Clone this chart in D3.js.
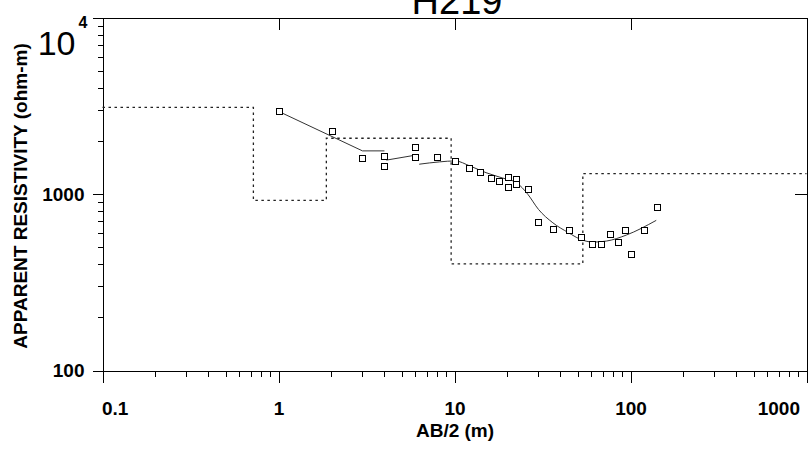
<!DOCTYPE html>
<html><head><meta charset="utf-8">
<script src="https://cdn.jsdelivr.net/npm/d3@7/dist/d3.min.js"></script>
<style>
html,body{margin:0;padding:0;background:#fff;}
svg{display:block;font-family:"Liberation Sans",Arial,Helvetica,sans-serif;}
</style>
</head><body>
<svg id="chart" width="808" height="455"></svg>
<script>
// ---------- data ----------
const chartTitle = "H219";
const xAxisTitle = "AB/2 (m)";
const yAxisTitle = "APPARENT RESISTIVITY (ohm-m)";

const xMajorTicks = [0.1, 1, 10, 100, 1000];
const xTickLabels = ["0.1", "1", "10", "100", "1000"];
const yMajorTicks = [100, 1000, 10000];
const yTickLabels = ["100", "1000", ""];
const yTopBase = "10";
const yTopExponent = "4";

// observed apparent resistivity (squares)
const obsAB2 = [1.0, 2.02, 3.0, 4.0, 4.0, 6.0, 6.0, 8.0, 10.1, 12.1, 14.0, 16.1, 18.0, 20.1, 20.1,
                22.3, 22.3, 26.1, 30.0, 36.2, 44.5, 52.5, 60.6, 68.4, 76.7, 84.4, 92.9, 101, 120, 141];
const obsRho = [2940, 2260, 1607, 1637, 1436, 1849, 1629, 1623, 1540, 1410, 1334, 1233, 1181, 1249, 1096,
                1223, 1144, 1064, 693, 632, 625, 567, 522, 520, 593, 532, 625, 460, 625, 840];

// calculated (fitted) curve, three segments
const fit1AB2 = [1.0, 3.0, 4.0];
const fit1Rho = [2940, 1755, 1755];
const fit2AB2 = [4.1, 6.0];
const fit2Rho = [1556, 1660];
const fit3AB2 = [6.3, 8.2, 10.1, 12.2, 15.1, 18.8, 22.5, 26.1, 30.0, 36.2, 44.5, 51.3, 61.0, 72.8, 94.6, 140];
const fit3Rho = [1475, 1520, 1540, 1443, 1321, 1231, 1159, 996, 818, 687, 603, 557, 534, 541, 585, 709];

// layered model (dotted step line)
const modelDepth = [0.1, 0.72, 1.87, 9.57, 53.6, 1000];
const modelRho   = [3100, 920, 2070, 402, 1305, 1305];

// ---------- layout ----------
const svg = d3.select("#chart");
const x = d3.scaleLog().domain([0.1, 1000]).range([102.5, 806.5]);
const y = d3.scaleLog().domain([100, 10000]).range([370.5, 17.5]);

const FONT = "Liberation Sans, Arial, sans-serif";
const labelFont = 19;
const minorX = x.ticks().filter(d => !xMajorTicks.some(m => Math.abs(m - d) < 1e-9));
const minorY = y.ticks().filter(d => !yMajorTicks.some(m => Math.abs(m - d) < 1e-9));

function styleAxis(g) {
  g.selectAll("path.domain").attr("stroke", "#000").attr("stroke-width", 1);
  g.selectAll(".tick line").attr("stroke", "#000").attr("stroke-width", 1);
  g.attr("shape-rendering", "crispEdges");
}

// bottom axis
const gB = svg.append("g").attr("transform", `translate(0,${y(100)})`)
  .call(d3.axisBottom(x).tickValues(xMajorTicks).tickSize(12).tickSizeOuter(0).tickPadding(19)
        .tickFormat((d, i) => xTickLabels[i]));
styleAxis(gB);
gB.selectAll("text").attr("font-size", labelFont).attr("font-weight", "bold").attr("fill", "#000")
  .attr("font-family", FONT);
gB.selectAll(".tick text").filter((d, i) => i === 0).attr("text-anchor", "start").attr("x", -1);
gB.selectAll(".tick text").filter((d, i) => i === xMajorTicks.length - 1).attr("text-anchor", "end").attr("x", -7);
const gBm = svg.append("g").attr("transform", `translate(0,${y(100)})`)
  .call(d3.axisBottom(x).tickValues(minorX).tickSize(6).tickFormat(""));
gBm.select("path.domain").remove();
styleAxis(gBm);

// top axis
const gT = svg.append("g").attr("transform", `translate(0,${y(10000)})`)
  .call(d3.axisTop(x).tickValues(xMajorTicks).tickSize(-12).tickSizeOuter(0).tickFormat(""));
styleAxis(gT);

// left axis
const gL = svg.append("g").attr("transform", `translate(${x(0.1)},0)`)
  .call(d3.axisLeft(y).tickValues(yMajorTicks).tickSize(10).tickSizeOuter(0).tickPadding(8)
        .tickFormat((d, i) => yTickLabels[i]));
styleAxis(gL);
gL.selectAll("text").attr("font-size", labelFont).attr("font-weight", "bold").attr("fill", "#000")
  .attr("font-family", FONT);
const gLm = svg.append("g").attr("transform", `translate(${x(0.1)},0)`)
  .call(d3.axisLeft(y).tickValues(minorY).tickSize(5).tickFormat(""));
gLm.select("path.domain").remove();
styleAxis(gLm);
// 10^4 label
svg.append("text").attr("x", x(0.1) - 27).attr("y", y(10000) + 37)
  .attr("text-anchor", "end").attr("font-size", 34)
  .attr("fill", "#000").attr("font-family", FONT).text(yTopBase);
svg.append("text").attr("x", x(0.1) - 15).attr("y", y(10000) + 10)
  .attr("text-anchor", "end").attr("font-size", 16).attr("font-weight", "bold").attr("fill", "#000")
  .attr("font-family", FONT).text(yTopExponent);

// right axis
const gR = svg.append("g").attr("transform", `translate(${x(1000)},0)`)
  .call(d3.axisRight(y).tickValues(yMajorTicks).tickSize(-12).tickSizeOuter(0).tickFormat(""));
styleAxis(gR);

// model step line
const modelPts = modelDepth.map((d, i) => [d, modelRho[i]]);
svg.append("path")
  .attr("d", d3.line().x(d => x(d[0])).y(d => y(d[1])).curve(d3.curveStepAfter)(modelPts))
  .attr("fill", "none").attr("stroke", "#222").attr("stroke-width", 1.3)
  .attr("stroke-dasharray", "2.5,3.5");

// fitted curve segments
const lineLin = d3.line().x(d => x(d[0])).y(d => y(d[1])).curve(d3.curveLinear);
const lineSmooth = d3.line().x(d => x(d[0])).y(d => y(d[1])).curve(d3.curveMonotoneX);
[[fit1AB2, fit1Rho, lineLin], [fit2AB2, fit2Rho, lineLin], [fit3AB2, fit3Rho, lineSmooth]].forEach(([a, r, gen]) => {
  svg.append("path")
    .attr("d", gen(a.map((v, i) => [v, r[i]])))
    .attr("fill", "none").attr("stroke", "#333").attr("stroke-width", 1);
});

// observed squares
const sq = 6;
svg.append("g").selectAll("rect")
  .data(obsAB2.map((v, i) => [v, obsRho[i]]))
  .join("rect")
  .attr("x", d => Math.round(x(d[0])) - sq / 2 + 0.5)
  .attr("y", d => Math.round(y(d[1])) - sq / 2 + 0.5)
  .attr("width", sq).attr("height", sq)
  .attr("fill", "#fff").attr("stroke", "#000").attr("stroke-width", 1);

// titles
svg.append("text").attr("x", 457).attr("y", 14).attr("text-anchor", "middle")
  .attr("font-size", 38).attr("fill", "#000").attr("font-family", FONT).text(chartTitle);
svg.append("text").attr("x", 455).attr("y", 437).attr("text-anchor", "middle")
  .attr("font-size", 19).attr("font-weight", "bold").attr("fill", "#000").attr("font-family", FONT).text(xAxisTitle);
svg.append("text").attr("transform", "translate(27,196) rotate(-90)").attr("text-anchor", "middle")
  .attr("font-size", 19).attr("font-weight", "bold").attr("fill", "#000").attr("font-family", FONT).text(yAxisTitle);
</script>
</body></html>
